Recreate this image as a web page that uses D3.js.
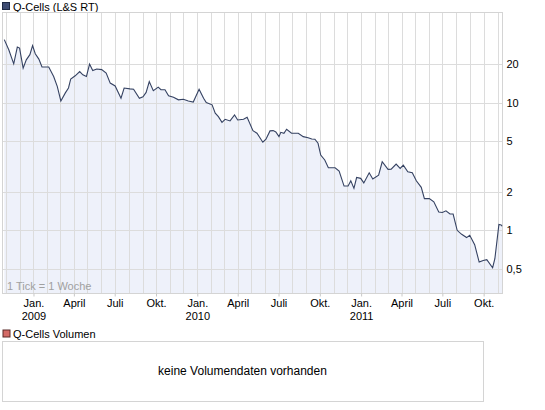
<!DOCTYPE html>
<html lang="de">
<head>
<meta charset="utf-8">
<title>Q-Cells (L&amp;S RT)</title>
<style>
    body { margin: 0; background: #fff; }
    svg { display: block; font-family: "Liberation Sans", Arial, sans-serif; font-size: 11px; }
    .grid line { stroke: #dcdcdc; shape-rendering: crispEdges; }
</style>
</head>
<body>
<svg id="chart" width="545" height="410"></svg>
<script src="https://d3js.org/d3.v7.min.js"></script>
<script>
// weekly closing prices (EUR)
const dates = [
    "2008-10-28","2008-11-07","2008-11-18","2008-11-26","2008-12-01","2008-12-09","2008-12-16","2008-12-24","2008-12-30",
    "2009-01-05","2009-01-13","2009-01-20","2009-02-04","2009-02-15","2009-02-23","2009-03-03","2009-03-13","2009-03-20",
    "2009-03-25","2009-04-04","2009-04-14","2009-04-21","2009-04-29","2009-05-06","2009-05-13","2009-05-22","2009-06-02",
    "2009-06-12","2009-06-21","2009-07-02","2009-07-15","2009-07-22","2009-08-04","2009-08-12","2009-08-25","2009-09-02",
    "2009-09-09","2009-09-16","2009-09-25","2009-10-06","2009-10-12","2009-10-21","2009-10-29","2009-11-09","2009-11-20",
    "2009-12-01","2009-12-12","2009-12-23","2010-01-05","2010-01-15","2010-01-21","2010-02-03","2010-02-10","2010-02-17",
    "2010-02-25","2010-03-04","2010-03-15","2010-03-25","2010-04-01","2010-04-14","2010-04-22","2010-05-05","2010-05-14",
    "2010-05-27","2010-06-03","2010-06-12","2010-06-19","2010-06-25","2010-07-02","2010-07-06","2010-07-13","2010-07-19",
    "2010-07-30","2010-08-14","2010-08-25","2010-09-05","2010-09-13","2010-09-20","2010-09-27","2010-10-03","2010-10-12",
    "2010-10-20","2010-11-04","2010-11-13","2010-11-24","2010-12-03","2010-12-09","2010-12-16","2010-12-22","2010-12-31",
    "2011-01-07","2011-01-19","2011-01-27","2011-02-09","2011-02-17","2011-03-02","2011-03-09","2011-03-20","2011-03-29",
    "2011-04-05","2011-04-15","2011-04-25","2011-05-04","2011-05-15","2011-05-22","2011-06-02","2011-06-12","2011-06-23",
    "2011-07-01","2011-07-09","2011-07-18","2011-07-25","2011-08-03","2011-08-13","2011-08-24","2011-08-31","2011-09-11",
    "2011-09-21","2011-09-30","2011-10-08","2011-10-21","2011-10-26","2011-11-04","2011-11-09","2011-11-11"
];
const prices = [
    31.1, 25.9, 20.1, 27.2, 26.7, 18.6, 21.6, 23.7, 27.9,
    24.1, 21.9, 19.0, 19.0, 16.0, 13.4, 10.3, 11.9, 13.0,
    15.3, 16.2, 17.5, 16.5, 16.0, 20.0, 17.8, 18.3, 18.1,
    17.0, 14.2, 13.5, 10.8, 13.0, 12.8, 12.7, 10.8, 11.1,
    12.0, 14.6, 12.4, 13.2, 12.6, 12.6, 11.3, 11.0, 10.5,
    10.6, 10.3, 10.1, 12.7, 10.8, 10.0, 9.6, 8.26, 7.76,
    7.0, 7.4, 7.18, 8.0, 7.31, 7.4, 7.68, 6.03, 5.75,
    4.89, 5.16, 6.0, 6.03, 5.89, 5.41, 5.85, 5.75, 6.18,
    5.75, 5.75, 5.41, 5.31, 5.19, 5.16, 4.80, 3.88, 3.55,
    3.09, 3.09, 2.91, 2.22, 2.22, 2.44, 2.13, 2.59, 2.55,
    2.35, 2.82, 2.52, 2.70, 3.44, 3.0, 3.01, 3.30, 3.05,
    3.24, 2.87, 2.82, 2.44, 2.17, 1.77, 1.77, 1.67, 1.39,
    1.38, 1.42, 1.34, 1.34, 1.0, 0.93, 0.877, 0.914, 0.772,
    0.564, 0.581, 0.589, 0.509, 0.599, 1.11, 1.10, 1.075
];
const yTicks = [0.5, 1, 2, 5, 10, 20];
const yTickLabels = ["0,5", "1", "2", "5", "10", "20"];
const monthNames = {0: "Jan.", 3: "April", 6: "Juli", 9: "Okt."};
const seriesName = "Q-Cells (L&S RT)";
const volumeName = "Q-Cells Volumen";
const volumeNote = "keine Volumendaten vorhanden";
const tickNote = "1 Tick = 1 Woche";

const parse = d3.timeParse("%Y-%m-%d");
const data = dates.map((d, i) => ({date: parse(d), value: prices[i]}));

const plotLeft = 2.5, plotRight = 502.5, plotTop = 12.5, plotBottom = 293.5;
const svg = d3.select("#chart");

const x = d3.scaleTime()
    .domain([new Date(2008, 9, 24), new Date(2011, 10, 12)])
    .range([plotLeft, plotRight]);
const y = d3.scaleLog()
    .domain([0.32, 50.7])
    .range([plotBottom, plotTop]);

// legend of the price panel
svg.append("rect")
    .attr("x", 2.5).attr("y", 2.5).attr("width", 7).attr("height", 7)
    .attr("fill", "#3e4c72").attr("stroke", "#1f2a44");
svg.append("text")
    .attr("x", 13).attr("y", 11)
    .attr("fill", "#000")
    .text(seriesName);

// area under the line
const area = d3.area()
    .x(d => x(d.date))
    .y0(plotBottom)
    .y1(d => y(d.value));
svg.append("path")
    .datum(data)
    .attr("d", area)
    .attr("fill", "#eef1fa");

// grid: monthly verticals, price levels horizontally
const grid = svg.append("g").attr("class", "grid");
grid.selectAll(".v")
    .data(x.ticks(d3.timeMonth.every(1)))
    .join("line")
    .attr("x1", d => Math.round(x(d)) + 0.5).attr("x2", d => Math.round(x(d)) + 0.5)
    .attr("y1", plotTop).attr("y2", plotBottom);
grid.selectAll(".h")
    .data(yTicks)
    .join("line")
    .attr("x1", plotLeft).attr("x2", plotRight)
    .attr("y1", d => Math.round(y(d)) + 0.5).attr("y2", d => Math.round(y(d)) + 0.5);

svg.append("rect")
    .attr("x", plotLeft).attr("y", plotTop)
    .attr("width", plotRight - plotLeft).attr("height", plotBottom - plotTop)
    .attr("fill", "none").attr("stroke", "#d4d4d4")
    .attr("shape-rendering", "crispEdges");

// price line
const line = d3.line()
    .x(d => x(d.date))
    .y(d => y(d.value));
svg.append("path")
    .datum(data)
    .attr("d", line)
    .attr("fill", "none")
    .attr("stroke", "#354262")
    .attr("stroke-width", 1.1);

svg.append("text")
    .attr("x", 7).attr("y", 290)
    .attr("fill", "#a0a0a0")
    .text(tickNote);

// right axis
const yAxis = d3.axisRight(y)
    .tickValues(yTicks)
    .tickFormat((d, i) => yTickLabels[i])
    .tickSize(0)
    .tickPadding(4);
const ya = svg.append("g")
    .attr("transform", "translate(" + plotRight + ",0)")
    .call(yAxis);
ya.select(".domain").remove();
ya.selectAll("text")
    .attr("fill", "#000")
    .style("font-family", "'Liberation Sans', Arial, sans-serif")
    .style("font-size", "11px");

// bottom axis, quarterly
const quarters = x.ticks(d3.timeMonth.every(3));
const xa = svg.append("g")
    .attr("transform", "translate(0," + plotBottom + ")")
    .call(d3.axisBottom(x)
        .tickValues(quarters)
        .tickSize(3)
        .tickFormat(d => monthNames[d.getMonth()])
        .tickPadding(3));
xa.select(".domain").remove();
xa.selectAll(".tick line").attr("stroke", "#c8c8c8");
xa.selectAll("text")
    .attr("fill", "#000")
    .style("font-family", "'Liberation Sans', Arial, sans-serif")
    .style("font-size", "11px");
xa.selectAll(".tick")
    .filter(d => d.getMonth() === 0)
    .append("text")
    .attr("y", 26)
    .attr("fill", "#000")
    .attr("text-anchor", "middle")
    .style("font-size", "11px")
    .text(d => d.getFullYear());

// volume panel
svg.append("rect")
    .attr("x", 3).attr("y", 330).attr("width", 7).attr("height", 7)
    .attr("fill", "#d46a66").attr("stroke", "#5a2a28");
svg.append("text")
    .attr("x", 13).attr("y", 337.5)
    .attr("fill", "#000")
    .text(volumeName);
svg.append("rect")
    .attr("x", 2.5).attr("y", 341.5).attr("width", 480.5).attr("height", 59.5)
    .attr("fill", "#fff").attr("stroke", "#d4d4d4")
    .attr("shape-rendering", "crispEdges");
svg.append("text")
    .attr("x", 242.5).attr("y", 375)
    .attr("text-anchor", "middle")
    .attr("fill", "#000")
    .style("font-size", "12px")
    .text(volumeNote);
</script>
</body>
</html>
